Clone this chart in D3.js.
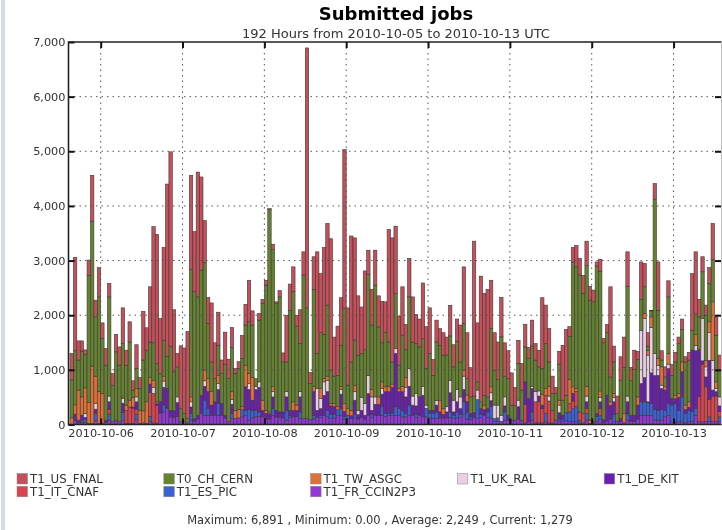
<!DOCTYPE html>
<meta charset="utf-8">
<style>

body {
  margin: 0;
  background: #fff;
}

svg {
  display: block;
  filter: blur(0.5px);
}

text {
  font-family: "DejaVu Sans", sans-serif;
  fill: #333;
}

.axis path {
  display: none;
}

.axis text {
  font-size: 11.3px;
}

.axis line {
  stroke: #111;
  stroke-width: 2px;
}

.grid line {
  stroke: #555;
  stroke-width: 1px;
  stroke-dasharray: 1.5 4;
}

</style>
<svg width="722" height="530"></svg>
<script src="https://d3js.org/d3.v7.min.js"></script>
<script>

var names = ["T1_FR_CCIN2P3", "T1_ES_PIC", "T1_IT_CNAF", "T1_DE_KIT", "T1_UK_RAL", "T1_TW_ASGC", "T0_CH_CERN", "T1_US_FNAL"];

var legendNames = ["T1_US_FNAL", "T1_IT_CNAF", "T0_CH_CERN", "T1_ES_PIC", "T1_TW_ASGC", "T1_FR_CCIN2P3", "T1_UK_RAL", "T1_DE_KIT"];

var colors = ["#9437d8", "#3a62d6", "#d9454f", "#6a1fae", "#e8d0e2", "#df7038", "#64822f", "#c64f5a"];

var yTicks = [0, 1000, 2000, 3000, 4000, 5000, 6000, 7000];

// one value per hour, bottom of the stack first
var fr = [
  0,70,30,40,40,20,20,80,20,20,
  40,80,50,80,50,70,20,20,20,90,
  20,30,20,60,30,20,210,230,300,140,
  130,150,50,50,30,80,60,100,200,170,
  170,170,170,170,170,120,50,110,110,120,
  140,170,80,120,140,150,140,100,100,170,
  140,130,120,80,130,140,150,110,110,110,
  90,100,130,130,170,140,110,120,170,170,
  100,110,110,120,100,130,100,170,130,170,
  170,170,150,170,170,170,170,140,140,170,
  170,130,170,140,140,120,110,110,120,120,
  120,130,110,120,130,190,100,100,130,110,
  130,170,130,110,60,60,60,80,80,80,
  80,100,80,30,50,80,30,30,30,50,
  30,30,80,60,60,70,50,50,50,30,
  30,80,20,50,50,90,40,60,100,50,
  60,50,30,80,60,60,100,170,170,170,
  170,80,80,80,140,170,50,40,50,50,
  30,50,60,170,50,50,50,60,50,50,
  50,50
];

var es = [
  0,0,0,30,60,0,0,100,0,0,
  0,110,0,0,0,150,0,0,0,100,
  0,0,0,90,0,0,0,125,0,0,
  0,0,0,0,0,120,0,0,0,275,
  120,0,0,215,0,0,0,90,0,0,
  130,90,195,140,120,80,0,0,0,120,
  0,0,0,180,30,0,0,120,0,0,
  0,70,0,40,0,120,80,60,100,120,
  50,60,0,60,0,0,0,0,50,0,
  0,155,50,40,40,155,120,110,60,185,
  0,60,0,0,155,90,100,120,0,0,
  0,100,60,110,60,225,120,40,0,345,
  60,0,100,215,50,60,0,150,0,0,
  0,0,0,0,0,150,0,0,0,150,
  0,0,0,40,30,145,180,240,275,50,
  0,120,0,0,100,70,0,0,0,130,
  0,0,0,110,0,0,0,245,245,230,
  215,195,180,195,120,215,305,340,210,455,
  170,210,180,120,0,0,0,80,0,0,
  90,90
];

var cnaf = [
  0,0,0,0,0,0,0,30,0,0,
  0,85,0,0,0,0,240,300,280,85,
  0,0,0,440,540,330,0,0,0,0,
  0,0,0,0,0,0,0,0,0,0,
  0,0,0,0,0,0,0,0,0,0,
  0,0,0,0,0,0,0,0,0,0,
  0,0,0,0,0,0,0,0,0,0,
  0,0,0,0,0,0,0,0,0,0,
  0,0,0,0,0,0,0,0,0,0,
  0,0,0,0,0,0,0,0,0,0,
  0,0,0,0,0,0,0,0,0,0,
  0,0,0,0,0,0,0,0,0,0,
  0,0,0,0,0,0,0,0,0,0,
  0,0,0,340,0,0,385,385,265,335,
  400,230,0,0,0,0,155,140,275,150,
  170,90,0,0,0,130,0,0,0,0,
  0,0,0,0,0,0,0,0,0,0,
  0,0,0,0,0,0,0,0,0,0,
  0,0,0,0,460,1055,640,320,470,470,
  100,100
];

var de = [
  0,120,50,100,30,0,0,70,0,0,
  40,140,0,0,0,170,0,0,20,140,
  0,0,0,150,0,30,210,325,360,120,
  120,250,0,0,0,120,50,70,335,255,
  310,185,245,255,215,50,0,170,0,0,
  0,430,365,185,380,450,120,100,100,215,
  120,100,110,245,100,120,110,275,0,0,
  0,430,130,120,365,340,150,150,0,265,
  90,0,50,265,80,130,70,395,80,200,
  200,230,400,390,470,975,310,350,305,345,
  185,150,335,395,0,50,50,125,110,60,
  110,350,60,185,100,225,200,60,85,0,
  100,100,60,110,0,0,0,110,90,0,
  0,225,0,410,425,430,0,105,60,0,
  0,0,0,115,80,0,0,140,0,0,
  0,125,0,0,50,125,50,475,250,235,
  0,60,0,225,110,110,255,335,445,15,
  560,620,640,385,370,640,120,90,240,460,
  75,55,1120,1060,860,60,180,715,110,80,
  100,100
];

var uk = [
  0,0,0,0,75,0,0,110,0,0,
  0,105,0,0,0,85,0,0,0,90,
  0,0,0,0,110,0,0,115,0,0,
  0,105,0,0,0,95,0,0,0,100,
  0,0,0,110,0,0,0,90,0,0,
  0,0,110,0,60,100,0,0,0,95,
  0,0,0,95,0,0,0,95,0,0,
  0,0,400,185,245,210,0,0,0,85,
  0,0,0,155,80,235,215,335,245,135,
  0,105,0,0,0,90,0,0,175,325,
  165,230,0,165,60,0,0,80,0,0,
  95,230,215,225,215,245,0,0,0,175,
  0,0,0,145,245,235,110,165,0,0,
  0,120,0,0,0,40,185,95,0,0,
  90,0,0,140,0,0,0,0,0,0,
  0,105,0,0,0,80,0,0,0,80,
  0,0,0,105,0,0,0,975,1080,855,
  830,405,185,60,0,80,0,0,0,0,
  0,0,0,100,0,775,185,505,545,60,
  165,165
];

var tw = [
  120,170,550,335,465,380,1050,495,580,550,
  0,0,0,0,0,30,95,125,180,155,
  240,220,395,120,130,35,0,90,0,0,
  0,0,0,0,0,90,0,0,0,195,
  240,245,0,150,0,0,0,140,150,155,
  55,395,185,415,0,0,185,60,30,100,
  0,0,0,0,0,155,95,0,0,0,
  0,100,0,185,60,75,45,55,55,60,
  145,120,100,120,0,0,0,0,135,0,
  135,120,90,100,60,0,60,100,180,0,
  0,0,0,0,0,0,0,0,215,110,
  0,0,0,0,0,110,120,0,0,0,
  0,85,0,110,0,0,0,0,0,0,
  0,0,0,0,0,0,0,0,200,125,
  180,0,0,90,0,0,440,120,60,0,
  0,180,60,0,0,120,0,0,65,75,
  0,0,170,0,0,0,150,0,90,80,
  195,0,125,335,60,195,0,65,70,180,
  80,100,0,195,0,0,120,200,1070,120,
  0,0
];

var cern = [
  695,990,550,840,610,2330,2650,1085,1735,1005,
  1005,1815,660,1250,1035,975,730,1065,130,365,
  400,930,945,650,685,700,510,660,590,1175,
  715,550,240,150,80,2330,2320,2165,2290,1965,
  1010,545,425,550,545,935,790,810,675,750,
  885,735,945,960,140,1130,1770,2290,3700,2500,
  1950,2105,915,545,1830,2015,1445,880,2625,2025,
  660,1770,640,1020,810,1300,610,500,575,750,
  1735,430,885,825,1010,805,985,1845,1180,2045,
  1280,715,990,810,405,1010,425,935,510,1310,
  990,910,915,875,670,1040,640,1075,1005,980,
  945,810,610,885,640,855,300,305,305,150,
  125,180,215,1065,640,470,1435,380,670,275,
  275,670,550,640,735,735,580,440,470,820,
  445,305,485,660,275,320,790,2285,2225,2505,
  2200,2210,2195,2195,2700,2190,1405,1145,455,575,
  140,700,845,2010,630,835,685,565,490,85,
  110,2825,880,125,180,1035,425,610,910,595,
  790,765,365,385,600,855,825,700,775,855,
  490,490
];

var fnal = [
  485,1710,350,185,85,280,840,305,535,285,
  305,245,220,320,335,655,275,370,170,435,
  200,890,410,1010,2125,2365,1010,1695,3150,3555,
  1135,245,1150,1200,1590,1725,1100,2285,1705,770,
  475,1080,655,605,250,585,355,365,90,125,
  420,380,760,260,0,120,75,90,20,100,
  35,115,165,855,480,455,200,620,425,4756,
  200,600,1860,1080,1590,1495,2405,715,900,870,
  2910,1415,2305,1870,1085,850,1440,445,655,640,
  570,760,565,2060,2270,1230,895,885,460,705,
  825,530,510,1015,765,835,290,400,305,410,
  330,560,405,405,675,1035,840,535,2835,1080,
  2300,1865,1970,885,685,685,720,610,510,590,
  325,425,485,415,200,475,300,305,1295,705,
  610,320,115,235,1005,1205,175,265,390,305,
  330,445,255,215,75,220,80,150,1650,290,
  320,430,555,630,245,355,150,685,425,245,
  10,285,885,170,185,295,200,175,120,190,
  95,140,1035,1130,320,275,185,290,660,335,
  275,284
];

var series = [fr, es, cnaf, de, uk, tw, cern, fnal];

var svg = d3.select("svg"),
    plotLeft = 70,
    plotRight = 724.7,
    plotTop = 42,
    plotBottom = 424.5;

var start = new Date(Date.UTC(2010, 9, 5, 15)),
    end = new Date(Date.UTC(2010, 9, 13, 15));

var hours = d3.utcHour.range(start, end);

var x = d3.scaleUtc()
    .domain([start, end])
    .range([plotLeft, plotRight]);

var y = d3.scaleLinear()
    .domain([0, 7000])
    .range([plotBottom, plotTop]);

var z = d3.scaleOrdinal()
    .domain(names)
    .range(colors);

var table = hours.map(function(h, i) {
    var row = {hour: h};
    names.forEach(function(n, j) {
        row[n] = series[j][i];
    });
    return row;
});

var stack = d3.stack().keys(names);

// the window edge on the left of the picture
svg.append("rect")
    .attr("x", 1)
    .attr("y", 0)
    .attr("width", 4)
    .attr("height", 530)
    .attr("fill", "#d6d9ea");

svg.append("g")
    .selectAll("g")
    .data(stack(table))
    .enter().append("g")
    .attr("fill", function(d) {
        return z(d.key);
    })
    .selectAll("rect")
    .data(function(d) {
        return d.filter(function(v) {
            return v[1] > v[0];
        });
    })
    .enter().append("rect")
    .attr("x", function(d) {
        return x(d.data.hour);
    })
    .attr("y", function(d) {
        return y(d[1]);
    })
    .attr("width", function(d) {
        return x(d3.utcHour.offset(d.data.hour, 1)) - x(d.data.hour);
    })
    .attr("height", function(d) {
        return y(d[0]) - y(d[1]);
    })
    .attr("stroke", "#3a3a3a")
    .attr("stroke-width", 0.6);

// grid sits above the bars
var days = d3.utcDay.range(d3.utcDay.ceil(start), end);

svg.append("g")
    .attr("class", "grid")
    .selectAll("line")
    .data(yTicks.slice(1, -1))
    .enter().append("line")
    .attr("x1", 68.5)
    .attr("x2", 722)
    .attr("y1", y)
    .attr("y2", y);

svg.append("g")
    .attr("class", "grid")
    .selectAll("line")
    .data(days)
    .enter().append("line")
    .attr("x1", x)
    .attr("x2", x)
    .attr("y1", plotTop)
    .attr("y2", plotBottom);

svg.append("g")
    .attr("class", "axis")
    .attr("transform", "translate(68.5,0)")
    .call(d3.axisLeft(y).tickValues(yTicks).tickFormat(d3.format(",")).tickSize(-6).tickPadding(3));

svg.append("g")
    .attr("class", "axis")
    .attr("transform", "translate(721,0)")
    .call(d3.axisRight(y).tickValues(yTicks.slice(1, -1)).tickFormat("").tickSize(-6));

svg.append("g")
    .attr("class", "axis")
    .attr("transform", "translate(0," + plotBottom + ")")
    .call(d3.axisBottom(x).tickValues(days).tickFormat(d3.utcFormat("%Y-%m-%d")).tickSize(-6).tickPadding(4));

svg.append("g")
    .attr("class", "axis")
    .attr("transform", "translate(0," + plotTop + ")")
    .call(d3.axisTop(x).tickValues(days).tickFormat("").tickSize(-6));

// frame
svg.append("path")
    .attr("d", d3.line()([[721.5, plotTop], [68.5, plotTop], [68.5, plotBottom], [721.5, plotBottom]]))
    .attr("fill", "none")
    .attr("stroke", "#222")
    .attr("stroke-width", 1.6);

svg.append("line")
    .attr("x1", 721.5)
    .attr("x2", 721.5)
    .attr("y1", plotTop)
    .attr("y2", plotBottom)
    .attr("stroke", "#bbb");

svg.append("text")
    .attr("x", 396)
    .attr("y", 20)
    .attr("text-anchor", "middle")
    .style("font-size", "18px")
    .style("font-weight", "bold")
    .style("fill", "#000")
    .text("Submitted jobs");

svg.append("text")
    .attr("x", 396)
    .attr("y", 38)
    .attr("text-anchor", "middle")
    .style("font-size", "13px")
    .text("192 Hours from 2010-10-05 to 2010-10-13 UTC");

var legend = svg.selectAll(".legend")
    .data(legendNames)
    .enter().append("g")
    .attr("class", "legend")
    .attr("transform", function(d, i) {
        var col = i < 6 ? Math.floor(i / 2) : i - 3,
            row = i < 6 ? i % 2 : 0;
        return "translate(" + (17 + 146.8 * col) + "," + (473.5 + 12.8 * row) + ")";
    });

legend.append("rect")
    .attr("width", 10.5)
    .attr("height", 10.5)
    .attr("stroke", "#888")
    .attr("stroke-width", 0.5)
    .attr("fill", z);

legend.append("text")
    .attr("x", 13)
    .attr("y", 9.5)
    .style("font-size", "11.8px")
    .text(function(d) {
        return d;
    });

svg.append("text")
    .attr("x", 380)
    .attr("y", 524)
    .attr("text-anchor", "middle")
    .style("font-size", "11.45px")
    .text("Maximum: 6,891 , Minimum: 0.00 , Average: 2,249 , Current: 1,279");

</script>
